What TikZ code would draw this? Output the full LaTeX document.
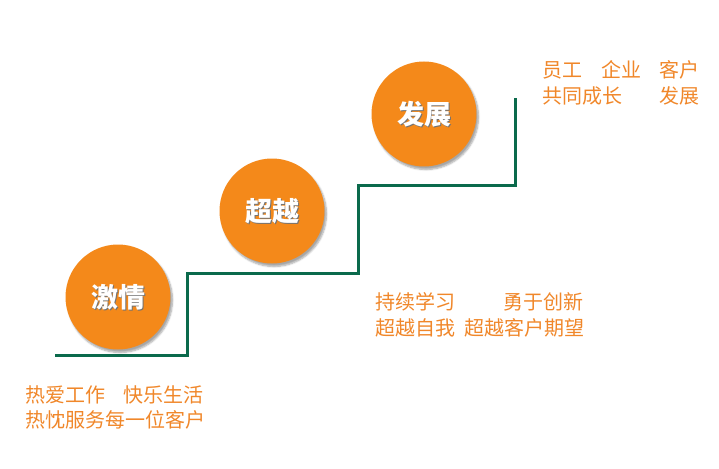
\documentclass[tikz,border=0pt]{standalone}
\usepackage{fontspec}
\newfontfamily\cjk{Noto Sans CJK SC}
\usetikzlibrary{shadows.blur}
\definecolor{stair}{HTML}{0B6A4C}
\definecolor{ball}{HTML}{F4891A}
\definecolor{txt}{HTML}{F0872A}
\tikzset{
  ball/.style={circle, fill=ball, minimum size=105pt, inner sep=0pt,
    blur shadow={shadow xshift=2pt, shadow yshift=-3pt, shadow blur steps=6, shadow opacity=35}},
  balltxt/.style={text=white, font=\cjk\bfseries\fontsize{27}{30}\selectfont},
  balltxtsh/.style={text=black!55, font=\cjk\bfseries\fontsize{27}{30}\selectfont},
  lbl/.style={text=txt, anchor=west, inner sep=0pt, font=\cjk\fontsize{20}{22}\selectfont},
  stairline/.style={draw=stair, line width=3pt}
}
\begin{document}
\begin{tikzpicture}[x=1pt,y=-1pt]
\useasboundingbox (0,0) rectangle (719,468);
% stairs
\coordinate (s0) at (55,355);
\coordinate (s1) at (187,355);
\coordinate (s2) at (187,273);
\coordinate (s3) at (358,273);
\coordinate (s4) at (358,185);
\coordinate (s5) at (515,185);
\coordinate (s6) at (515,98);
\draw[stairline] (s0) -- (s1) -- (s2) -- (s3) -- (s4) -- (s5) -- (s6);
% circles
\node[ball] (c1) at (118,297) {};
\node[ball] (c2) at (272,211) {};
\node[ball] (c3) at (424,114) {};
\foreach \c/\t in {c1/激情, c2/超越, c3/发展}{
  \node[balltxtsh] at ([xshift=1.5pt,yshift=-1.5pt]\c.center) {\t};
  \node[balltxt] at (\c.center) {\t};
}
% labels
\node[lbl] (a1) at (25,395) {热爱工作};
\node[lbl] (a2) at (123,395) {快乐生活};
\node[lbl] (a3) at (25,420) {热忱服务每一位客户};
\node[lbl] (b1) at (375,302) {持续学习};
\node[lbl] (b2) at (503,302) {勇于创新};
\node[lbl] (b3) at (375,328) {超越自我};
\node[lbl] (b4) at (464,328) {超越客户期望};
\node[lbl] (d1) at (542,70) {员工};
\node[lbl] (d2) at (601,70) {企业};
\node[lbl] (d3) at (659,70) {客户};
\node[lbl] (d4) at (542,96) {共同成长};
\node[lbl] (d5) at (659,96) {发展};
\end{tikzpicture}
\end{document}
